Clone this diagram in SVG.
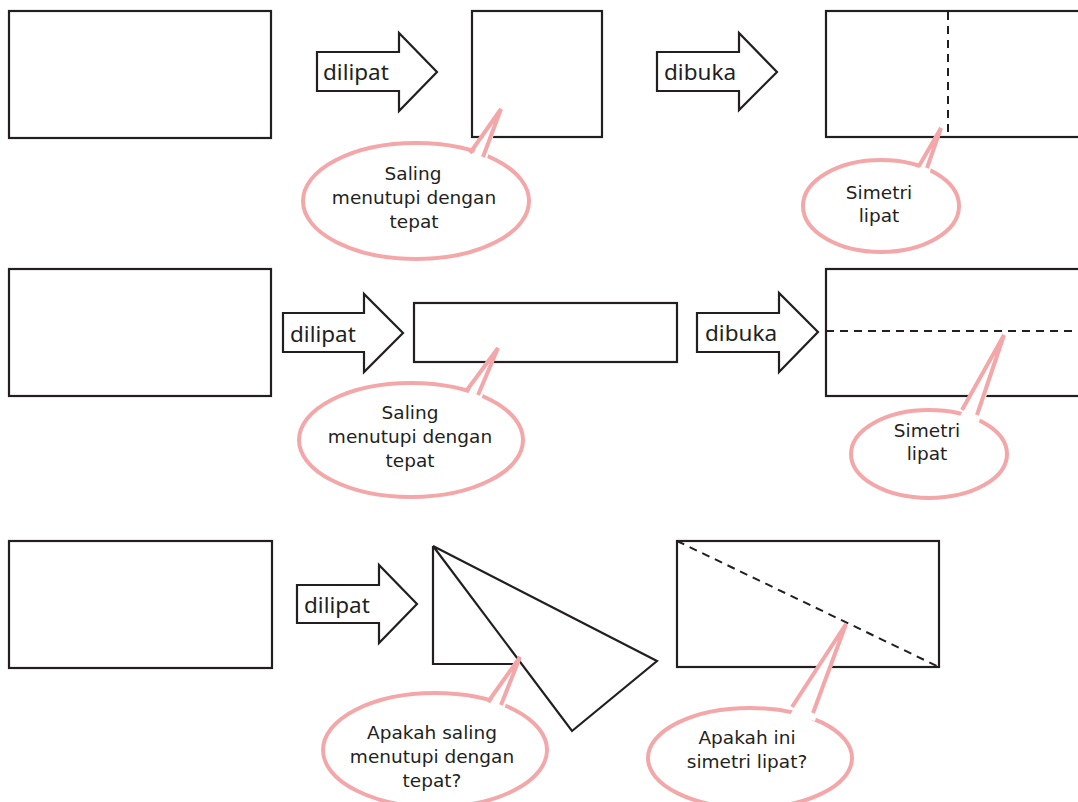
<svg xmlns="http://www.w3.org/2000/svg" width="1078" height="802" viewBox="0 0 1078 802">
<style>
.shape{fill:#fff;stroke:#231f20;stroke-width:2.2}
.dash{fill:none;stroke:#231f20;stroke-width:2;stroke-dasharray:8 6}
.arrow{fill:#fff;stroke:#231f20;stroke-width:2.2;stroke-linejoin:miter}
.alabel{font-family:"Noto Sans","Open Sans",sans-serif;font-size:22.5px;fill:#231f20}
.bub{fill:#fff;stroke:#f4a7a9;stroke-width:4}
.tailfill{fill:#fff;stroke:none}
.tail{fill:none;stroke:#f4a7a9;stroke-width:4;stroke-linejoin:miter}
.btext{font-family:"DejaVu Sans","Noto Sans",sans-serif;font-size:18.5px;fill:#231f20;text-anchor:middle}
</style>
<rect width="1078" height="802" fill="#fff"/>
<g id="connectors">
<g id="arrow1"><path class="arrow" d="M317,52 H399 V33 L437,72 L399,111 V91 H317 Z"/><text class="alabel" x="323" y="80">dilipat</text></g>
<g id="arrow2"><path class="arrow" d="M657,52 H739 V33 L777,72 L739,110 V91 H657 Z"/><text class="alabel" x="664" y="80">dibuka</text></g>
<g id="arrow3"><path class="arrow" d="M283,313 H364 V294 L403,333 L364,372 V352 H283 Z"/><text class="alabel" x="290" y="342">dilipat</text></g>
<g id="arrow4"><path class="arrow" d="M697,313 H779 V293 L818,332 L779,372 V352 H697 Z"/><text class="alabel" x="705" y="341">dibuka</text></g>
<g id="arrow5"><path class="arrow" d="M297,585 H379 V565 L417,604 L379,643 V623 H297 Z"/><text class="alabel" x="304" y="613">dilipat</text></g>
</g>
<g id="rectA"><rect class="shape" x="9" y="11" width="262" height="127"/></g>
<g id="rectB"><rect class="shape" x="472" y="11" width="130" height="126"/></g>
<g id="rectC"><rect class="shape" x="826" y="11" width="262" height="126"/><line class="dash" x1="948" y1="12" x2="948" y2="137"/></g>
<g id="rectD"><rect class="shape" x="9" y="269" width="262" height="127"/></g>
<g id="rectE"><rect class="shape" x="414" y="303" width="263" height="59"/></g>
<g id="rectF"><rect class="shape" x="826" y="269" width="262" height="127"/><line class="dash" x1="826" y1="331" x2="1078" y2="331"/></g>
<g id="rectG"><rect class="shape" x="9" y="541" width="263" height="127"/></g>
<g id="fold"><path class="shape" d="M433,546 V664 H518"/><polygon class="shape" points="433,546 657,661 572,731"/></g>
<g id="rectH"><rect class="shape" x="677" y="541" width="262" height="126"/><line class="dash" x1="677" y1="541" x2="939" y2="667"/></g>

<g id="bubble1">
<ellipse class="bub" cx="416" cy="201" rx="113" ry="58"/>
<polygon class="tailfill" points="468,162 501,109 485,166"/>
<polyline class="tail" points="470,153 501,109 483,157"/>
<text class="btext" x="413" y="180">Saling</text><text class="btext" x="414" y="204">menutupi dengan</text><text class="btext" x="414" y="228">tepat</text>
</g>
<g id="bubble2">
<ellipse class="bub" cx="881" cy="206" rx="78" ry="46"/>
<polygon class="tailfill" points="916,174 941,128 929,176"/>
<polyline class="tail" points="919,166 941,128 927,168"/>
<text class="btext" x="879" y="199">Simetri</text><text class="btext" x="879" y="222">lipat</text>
</g>
<g id="bubble3">
<ellipse class="bub" cx="411" cy="440" rx="112" ry="57"/>
<polygon class="tailfill" points="465,398 498,348 480,403"/>
<polyline class="tail" points="467,390 498,348 478,395"/>
<text class="btext" x="410" y="419">Saling</text><text class="btext" x="410" y="443">menutupi dengan</text><text class="btext" x="410" y="467">tepat</text>
</g>
<g id="bubble4">
<ellipse class="bub" cx="929" cy="454" rx="78" ry="44"/>
<polygon class="tailfill" points="959,418 1004,335 979,422"/>
<polyline class="tail" points="962,410 1004,335 977,415"/>
<text class="btext" x="927" y="437">Simetri</text><text class="btext" x="927" y="460">lipat</text>
</g>
<g id="bubble5">
<ellipse class="bub" cx="435" cy="750" rx="112" ry="57"/>
<polygon class="tailfill" points="486,710 520,657 503,713"/>
<polyline class="tail" points="488,702 520,657 501,705"/>
<text class="btext" x="432" y="739">Apakah saling</text><text class="btext" x="432" y="763">menutupi dengan</text><text class="btext" x="432" y="787">tepat?</text>
</g>
<g id="bubble6">
<ellipse class="bub" cx="750" cy="758" rx="102" ry="50"/>
<polygon class="tailfill" points="790,715 846,624 815,721"/>
<polyline class="tail" points="792,707 846,624 813,713"/>
<text class="btext" x="747" y="744">Apakah ini</text><text class="btext" x="747" y="768">simetri lipat?</text>
</g>
</svg>
